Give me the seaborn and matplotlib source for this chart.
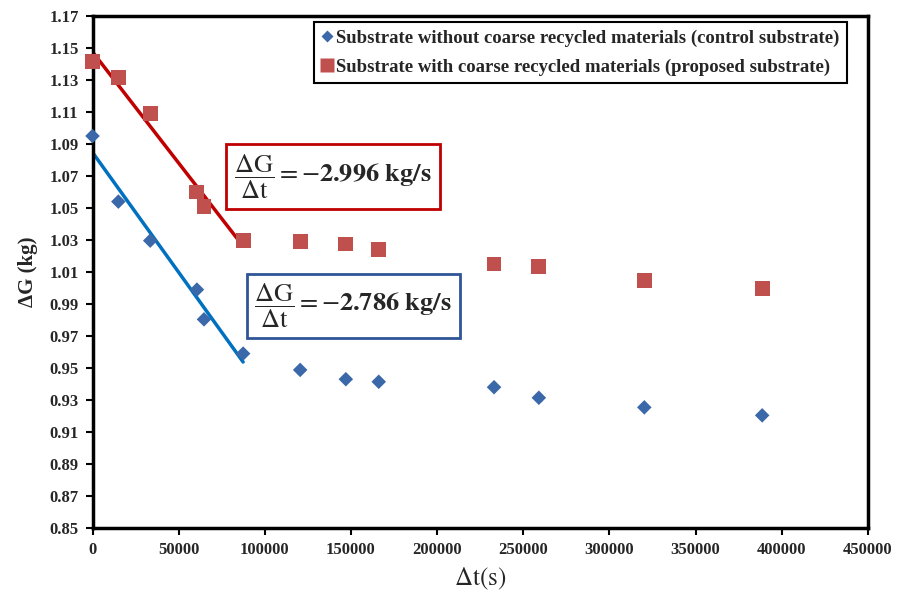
import numpy as np
import pandas as pd
import matplotlib
matplotlib.use("Agg")
import matplotlib.pyplot as plt
import seaborn as sns
from matplotlib.lines import Line2D

# Elapsed time (s) and mass change (kg) for both substrates
time_s = [0, 15000, 33500, 60600, 64700, 87400, 120500, 147000, 166100,
          233000, 259000, 320200, 388600]
control_kg = [1.095, 1.054, 1.0296, 0.999, 0.9804, 0.959, 0.9488, 0.943,
              0.9414, 0.938, 0.9314, 0.9254, 0.9204]
proposed_kg = [1.1414, 1.1317, 1.109, 1.060, 1.0508, 1.0296, 1.0288, 1.0275,
               1.0238, 1.015, 1.0136, 1.0046, 0.9996]

control_label = "Substrate without coarse recycled materials (control substrate)"
proposed_label = "Substrate with coarse recycled materials (proposed substrate)"
n_fit = 6  # points used for the initial-rate trend lines

x_ticks = list(range(0, 450001, 50000))
y_ticks = [round(0.85 + 0.02 * i, 2) for i in range(17)]

df = pd.DataFrame({
    "t": time_s * 2,
    "g": control_kg + proposed_kg,
    "series": [control_label] * len(time_s) + [proposed_label] * len(time_s),
})

sns.set_theme(style="white")
plt.rcParams["font.family"] = ["Liberation Serif", "DejaVu Serif"]
plt.rcParams["mathtext.fontset"] = "stix"

fig = plt.figure(figsize=(8.98, 5.95), dpi=100)
ax = fig.add_axes([92.5 / 898, 1 - 528 / 595, (868 - 92.5) / 898, (528 - 16) / 595])

blue_marker = "#3A68A8"
red_marker = "#C0504D"

# trend lines over the initial decay
fit_ctrl = pd.DataFrame({"t": time_s[:n_fit], "g": control_kg[:n_fit]})
fit_prop = pd.DataFrame({"t": time_s[:n_fit], "g": proposed_kg[:n_fit]})
sns.regplot(data=fit_prop, x="t", y="g", scatter=False, ci=None, truncate=True,
            color="#C00000", line_kws={"lw": 2.5}, ax=ax)
sns.regplot(data=fit_ctrl, x="t", y="g", scatter=False, ci=None, truncate=True,
            color="#0070C0", line_kws={"lw": 2.5}, ax=ax)

sns.scatterplot(data=df, x="t", y="g", hue="series", style="series",
                palette={control_label: blue_marker, proposed_label: red_marker},
                markers={control_label: "D", proposed_label: "s"},
                s=60, edgecolor="none", ax=ax, zorder=3, legend=False,
                clip_on=False)
# squares drawn larger than the diamonds
coll = ax.collections[-1]
coll.set_sizes([55] * len(time_s) + [115] * len(time_s))

ax.set_xlim(0, 450000)
ax.set_ylim(0.85, 1.17)
ax.set_xticks(x_ticks)
ax.set_xticklabels([str(v) for v in x_ticks])
ax.set_yticks(y_ticks)
ax.set_yticklabels([f"{v:.2f}" for v in y_ticks])
for lab in ax.get_xticklabels() + ax.get_yticklabels():
    lab.set_fontweight("bold")
    lab.set_fontsize(12)
ax.tick_params(axis="both", direction="out", length=5, width=1.5, color="black",
               bottom=True, left=True, pad=5)
for sp in ax.spines.values():
    sp.set_color("black")
    sp.set_linewidth(2.5)

ax.set_xlabel(r"$\Delta\mathrm{t(s)}$", fontsize=18, labelpad=6)
ax.set_ylabel("ΔG (kg)", fontsize=15, fontweight="bold", labelpad=8)

# legend
handles = [
    Line2D([], [], marker="D", color="none", markerfacecolor=blue_marker,
           markeredgecolor="none", markersize=6, label=control_label),
    Line2D([], [], marker="s", color="none", markerfacecolor=red_marker,
           markeredgecolor="none", markersize=10, label=proposed_label),
]
leg = ax.legend(handles=handles, loc="upper right", bbox_to_anchor=(0.973, 0.988),
                frameon=True, fancybox=False, framealpha=1, edgecolor="black",
                handlelength=0.6, handletextpad=0.2, borderpad=0.4,
                labelspacing=0.6, borderaxespad=0,
                prop={"weight": "bold", "size": 13.5})
leg.get_frame().set_linewidth(1.5)

# slope annotations
ax.text(139600, 1.0697,
        r"$\dfrac{\Delta\mathrm{G}}{\Delta\mathrm{t}} = -\mathbf{2.996\ kg/s}$",
        fontsize=19, ha="center", va="center", zorder=5,
        bbox=dict(boxstyle="square,pad=0.3", fc="white", ec="#C00000", lw=2))
ax.text(151300, 0.9888,
        r"$\dfrac{\Delta\mathrm{G}}{\Delta\mathrm{t}} = -\mathbf{2.786\ kg/s}$",
        fontsize=19, ha="center", va="center", zorder=5,
        bbox=dict(boxstyle="square,pad=0.3", fc="white", ec="#2F5597", lw=2))

fig.savefig("out.png", dpi=100)
